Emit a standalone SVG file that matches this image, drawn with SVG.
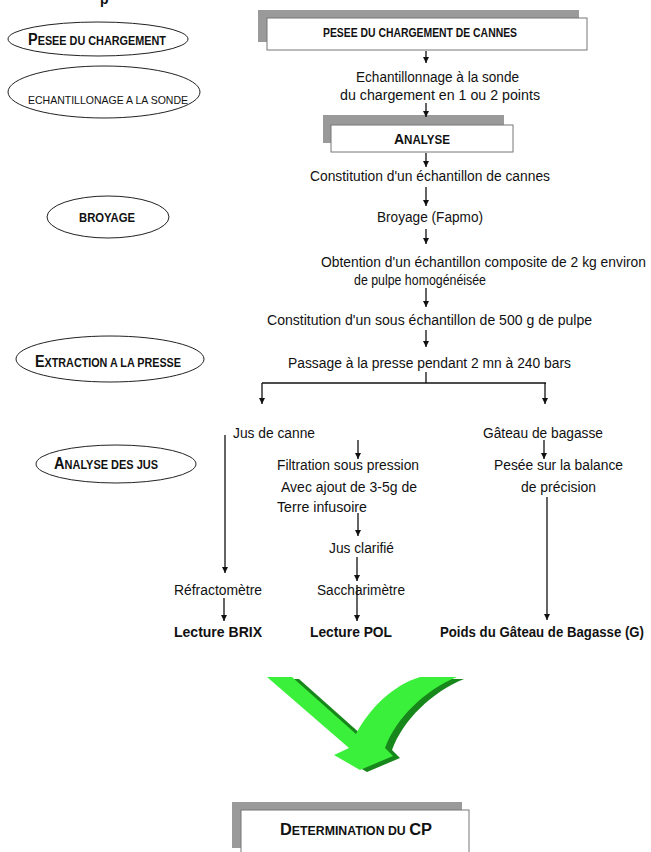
<svg xmlns="http://www.w3.org/2000/svg" width="651" height="852" viewBox="0 0 651 852">
<defs>
<style>
.t{font-family:"Liberation Sans Narrow","Liberation Sans",Arial,sans-serif;font-size:14px;fill:#111}
.b{font-weight:bold}
.sc{font-family:"Liberation Sans",Arial,sans-serif;font-weight:bold;font-size:12px;fill:#111}
.scr{font-family:"Liberation Sans",Arial,sans-serif;font-size:11.5px;fill:#111}
.el{fill:#fff;stroke:#222;stroke-width:1}
.sh{fill:#9a9a9a}
.bx{fill:#fff;stroke:#777;stroke-width:1}
.ln{fill:none;stroke:#111;stroke-width:1.3}
.ar{fill:none;stroke:#111;stroke-width:1.3;marker-end:url(#ah)}
</style>
<marker id="ah" viewBox="0 0 10 10" refX="10" refY="5" markerWidth="6" markerHeight="6" markerUnits="userSpaceOnUse" orient="auto">
<path d="M0,0 L10,5 L0,10 z" fill="#111"/>
</marker>
</defs>
<rect width="651" height="852" fill="#fff"/>
<text x="100" y="4" class="t b" font-size="16">p</text>

<g id="e-pesee">
<ellipse class="el" cx="98" cy="39" rx="90" ry="17"/>
<text x="28" y="45" class="sc" textLength="138" lengthAdjust="spacingAndGlyphs"><tspan font-size="16">P</tspan>ESEE DU CHARGEMENT</text>
</g>
<g id="e-echant">
<ellipse class="el" cx="104" cy="92" rx="96" ry="26"/>
<text x="28" y="104" class="scr" textLength="160" lengthAdjust="spacingAndGlyphs">ECHANTILLONAGE A LA SONDE</text>
</g>
<g id="e-broyage">
<ellipse class="el" cx="108" cy="217" rx="61" ry="21"/>
<text x="79" y="222" class="sc" textLength="56" lengthAdjust="spacingAndGlyphs">BROYAGE</text>
</g>
<g id="e-extraction">
<ellipse class="el" cx="110" cy="359" rx="94" ry="23"/>
<text x="35" y="367" class="sc" textLength="146" lengthAdjust="spacingAndGlyphs"><tspan font-size="16">E</tspan>XTRACTION A LA PRESSE</text>
</g>
<g id="e-analysejus">
<ellipse class="el" cx="116" cy="464" rx="80" ry="19"/>
<text x="54" y="469" class="sc" textLength="104" lengthAdjust="spacingAndGlyphs"><tspan font-size="16">A</tspan>NALYSE DES JUS</text>
</g>

<g id="n-pesee-box">
<rect class="sh" x="258" y="10" width="321" height="32"/>
<rect class="bx" x="267" y="18" width="320" height="32"/>
<text x="323" y="37" class="sc" font-size="11" textLength="194" lengthAdjust="spacingAndGlyphs">PESEE DU CHARGEMENT DE CANNES</text>
</g>
<g id="n-echant">
<text x="356" y="82" class="t" textLength="163" lengthAdjust="spacingAndGlyphs">Echantillonnage à la sonde</text>
<text x="340" y="100" class="t" textLength="200" lengthAdjust="spacingAndGlyphs">du chargement en 1 ou 2 points</text>
</g>
<g id="n-analyse">
<rect class="sh" x="323" y="115" width="181" height="28"/>
<rect class="bx" x="331" y="125" width="182" height="27"/>
<text x="394" y="144" class="sc" font-size="11" textLength="56" lengthAdjust="spacingAndGlyphs"><tspan font-size="14.5">A</tspan>NALYSE</text>
</g>
<g id="n-constitution"><text x="310" y="181" class="t" textLength="240" lengthAdjust="spacingAndGlyphs">Constitution d'un échantillon de cannes</text></g>
<g id="n-broyage"><text x="377" y="222" class="t" textLength="106" lengthAdjust="spacingAndGlyphs">Broyage (Fapmo)</text></g>
<g id="n-obtention">
<text x="321" y="267" class="t" textLength="325" lengthAdjust="spacingAndGlyphs">Obtention d'un échantillon composite de 2 kg environ</text>
<text x="354" y="285" class="t" font-size="13.5" textLength="132" lengthAdjust="spacingAndGlyphs">de pulpe homogénéisée</text>
</g>
<g id="n-sous"><text x="267" y="325" class="t" textLength="325" lengthAdjust="spacingAndGlyphs">Constitution d'un sous échantillon de 500 g de pulpe</text></g>
<g id="n-passage"><text x="288" y="368" class="t" textLength="283" lengthAdjust="spacingAndGlyphs">Passage à la presse pendant 2 mn à 240 bars</text></g>
<g id="n-jus"><text x="233" y="438" class="t" textLength="82" lengthAdjust="spacingAndGlyphs">Jus de canne</text></g>
<g id="n-gateau"><text x="483" y="438" class="t" textLength="120" lengthAdjust="spacingAndGlyphs">Gâteau de bagasse</text></g>
<g id="n-filtration">
<text x="277" y="470" class="t" textLength="142" lengthAdjust="spacingAndGlyphs">Filtration sous pression</text>
<text x="281" y="492" class="t" textLength="136" lengthAdjust="spacingAndGlyphs">Avec ajout de 3-5g de</text>
<text x="277" y="512" class="t" textLength="90" lengthAdjust="spacingAndGlyphs">Terre infusoire</text>
</g>
<g id="n-pesee-bal">
<text x="494" y="470" class="t" textLength="129" lengthAdjust="spacingAndGlyphs">Pesée sur la balance</text>
<text x="521" y="492" class="t" textLength="75" lengthAdjust="spacingAndGlyphs">de précision</text>
</g>
<g id="n-clarifie"><text x="329" y="553" class="t" textLength="65" lengthAdjust="spacingAndGlyphs">Jus clarifié</text></g>
<g id="n-refracto"><text x="174" y="595" class="t" textLength="88" lengthAdjust="spacingAndGlyphs">Réfractomètre</text></g>
<g id="n-saccha"><text x="317" y="595" class="t" textLength="88" lengthAdjust="spacingAndGlyphs">Saccharimètre</text></g>
<g id="n-brix"><text x="174" y="637" class="t b" textLength="88" lengthAdjust="spacingAndGlyphs">Lecture BRIX</text></g>
<g id="n-pol"><text x="310" y="637" class="t b" textLength="82" lengthAdjust="spacingAndGlyphs">Lecture POL</text></g>
<g id="n-poids"><text x="440" y="637" class="t b" textLength="204" lengthAdjust="spacingAndGlyphs">Poids du Gâteau de Bagasse (G)</text></g>

<g id="big-arrow">
<path transform="translate(7,2)" fill="#17861b" d="M267,677 L292,677 L356,734 C371,706 394,685 420,677 L457,677 C425,690 396,718 385,748 L393,756 L360,770 L334,755 L349,748 Z"/>
<path fill="#3af03a" d="M267,677 L292,677 L356,734 C371,706 394,685 420,677 L457,677 C425,690 396,718 385,748 L393,756 L360,770 L334,755 L349,748 Z"/>
</g>

<g id="n-determination">
<rect class="sh" x="232" y="802" width="230" height="46"/>
<rect class="bx" x="241" y="810" width="228" height="50"/>
<text x="280" y="835" class="sc" textLength="152" lengthAdjust="spacingAndGlyphs"><tspan font-size="16">D</tspan>ETERMINATION DU <tspan font-size="16">CP</tspan></text>
</g>

<g id="connectors">
<line class="ar" x1="426" y1="51" x2="426" y2="63"/>
<line class="ar" x1="426" y1="103" x2="426" y2="117"/>
<line class="ar" x1="426" y1="153" x2="426" y2="167"/>
<line class="ar" x1="426" y1="187" x2="426" y2="206"/>
<line class="ar" x1="426" y1="229" x2="426" y2="244"/>
<line class="ar" x1="426" y1="288" x2="426" y2="307"/>
<line class="ar" x1="426" y1="330" x2="426" y2="347"/>
<line class="ln" x1="426" y1="372" x2="426" y2="383"/>
<line class="ln" x1="262" y1="383" x2="546" y2="383"/>
<line class="ar" x1="262" y1="383" x2="262" y2="404"/>
<line class="ar" x1="545" y1="383" x2="545" y2="404"/>
<line class="ar" x1="225" y1="435" x2="225" y2="573"/>
<line class="ar" x1="358" y1="440" x2="358" y2="459"/>
<line class="ar" x1="544" y1="440" x2="544" y2="459"/>
<line class="ar" x1="547" y1="497" x2="547" y2="620"/>
<line class="ar" x1="358" y1="513" x2="358" y2="536"/>
<line class="ar" x1="357" y1="557" x2="357" y2="581"/>
<line class="ar" x1="224" y1="598" x2="224" y2="621"/>
<line class="ar" x1="357" y1="585" x2="357" y2="621"/>
</g>
</svg>
